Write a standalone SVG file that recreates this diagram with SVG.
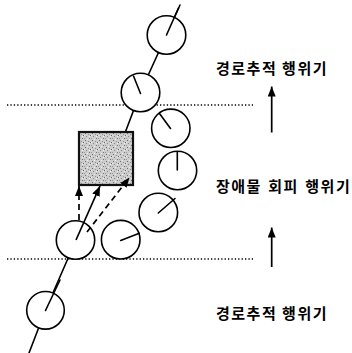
<svg xmlns="http://www.w3.org/2000/svg" width="352" height="353" viewBox="0 0 352 353">
  <style>
    .trail{stroke:#000;stroke-width:1.6;fill:none;stroke-linecap:round}
    .pose circle{fill:#fff;stroke:#000;stroke-width:1.6}
    .pose line{stroke:#000;stroke-width:1.6;stroke-linecap:round}
    .zone{stroke:#000;stroke-width:1.4;stroke-dasharray:1.3 2.1}
    .solid{stroke:#000;stroke-width:1.7;fill:none}
    .dash{stroke:#000;stroke-width:1.7;fill:none;stroke-dasharray:6 4}
    .lbl{font-family:"Noto Sans CJK KR","Noto Sans",sans-serif;font-size:15px;font-weight:bold;letter-spacing:1.5px;fill:#000}
    .wide{word-spacing:1.5px}
  </style>
  <defs>
    <marker id="head" viewBox="0 0 10 8" refX="10" refY="4" markerWidth="10" markerHeight="8" markerUnits="userSpaceOnUse" orient="auto">
      <path d="M0,0 L10,4 L0,8 Z" fill="#000"/>
    </marker>
    <pattern id="speckle" width="7" height="7" patternUnits="userSpaceOnUse">
      <rect width="7" height="7" fill="#cdcdcd"/>
      <rect x="1" y="0" width="1" height="1" fill="#6f6f6f"/>
      <rect x="4" y="1" width="1" height="1" fill="#949494"/>
      <rect x="6" y="2" width="1" height="1" fill="#666"/>
      <rect x="2" y="3" width="1" height="1" fill="#888"/>
      <rect x="0" y="5" width="1" height="1" fill="#9a9a9a"/>
      <rect x="5" y="5" width="1" height="1" fill="#777"/>
      <rect x="3" y="6" width="1" height="1" fill="#f0f0f0"/>
      <rect x="5" y="3" width="1" height="1" fill="#f2f2f2"/>
      <rect x="0" y="2" width="1" height="1" fill="#ebebeb"/>
    </pattern>
  </defs>

  <!-- behaviour boundaries -->
  <g id="boundaries">
    <line class="zone" x1="7" y1="105" x2="253" y2="105"/>
    <line class="zone" x1="7" y1="259" x2="253" y2="259"/>
  </g>

  <!-- robot trail and transitions -->
  <g id="connectors">
    <polyline class="trail" points="29,353 45.5,310 76,240"/>
    <polyline class="trail" points="125,133 140.5,92 166.5,35 180,5"/>
  </g>

  <!-- obstacle -->
  <g id="obstacle">
    <rect x="79" y="132" width="54" height="53" fill="url(#speckle)" stroke="#111" stroke-width="2.2"/>
  </g>

  <!-- robot poses: body circle + heading -->
  <g id="pose1" class="pose"><circle cx="166.5" cy="35" r="19.3"/><line x1="166.5" y1="35" x2="178.5" y2="8"/></g>
  <g id="pose2" class="pose"><circle cx="140.5" cy="92.5" r="19.3"/><line x1="140.5" y1="93.5" x2="133.5" y2="76"/></g>
  <g id="pose3" class="pose"><circle cx="170.8" cy="128.3" r="19.2"/><line x1="170.5" y1="128.5" x2="159.5" y2="113.5"/></g>
  <g id="pose4" class="pose"><circle cx="177.5" cy="170.5" r="19.2"/><line x1="177.3" y1="170" x2="177.3" y2="152"/></g>
  <g id="pose5" class="pose"><circle cx="158.3" cy="212.5" r="19.3"/><line x1="158.3" y1="213" x2="175" y2="198.5"/></g>
  <g id="pose6" class="pose"><circle cx="120.7" cy="239.7" r="19.3"/><line x1="120.7" y1="240.5" x2="139.3" y2="233.3"/></g>
  <g id="pose7" class="pose"><circle cx="75.5" cy="240" r="19.2"/></g>
  <g id="pose8" class="pose"><circle cx="45.5" cy="310.3" r="18.8"/><line x1="45.5" y1="310.5" x2="60" y2="280"/></g>

  <!-- candidate directions from the pose facing the obstacle -->
  <g id="candidates">
    <line class="dash" x1="79" y1="220" x2="79" y2="186" marker-end="url(#head)"/>
    <line class="solid" x1="76" y1="240" x2="100" y2="186" marker-end="url(#head)"/>
    <line class="dash" x1="87" y1="232" x2="129.5" y2="177.5" marker-end="url(#head)"/>
  </g>

  <!-- behaviour switch arrows -->
  <g id="switches">
    <line class="solid" x1="271.7" y1="132.5" x2="271.7" y2="86.5" marker-end="url(#head)"/>
    <line class="solid" x1="271.7" y1="267" x2="271.7" y2="227.5" marker-end="url(#head)"/>
  </g>

  <!-- behaviour labels -->
  <g id="label-top"><text class="lbl" x="216" y="74">경로추적 행위기</text></g>
  <g id="label-mid"><text class="lbl wide" x="216" y="192">장애물 회피 행위기</text></g>
  <g id="label-bot"><text class="lbl" x="216" y="319">경로추적 행위기</text></g>
</svg>
